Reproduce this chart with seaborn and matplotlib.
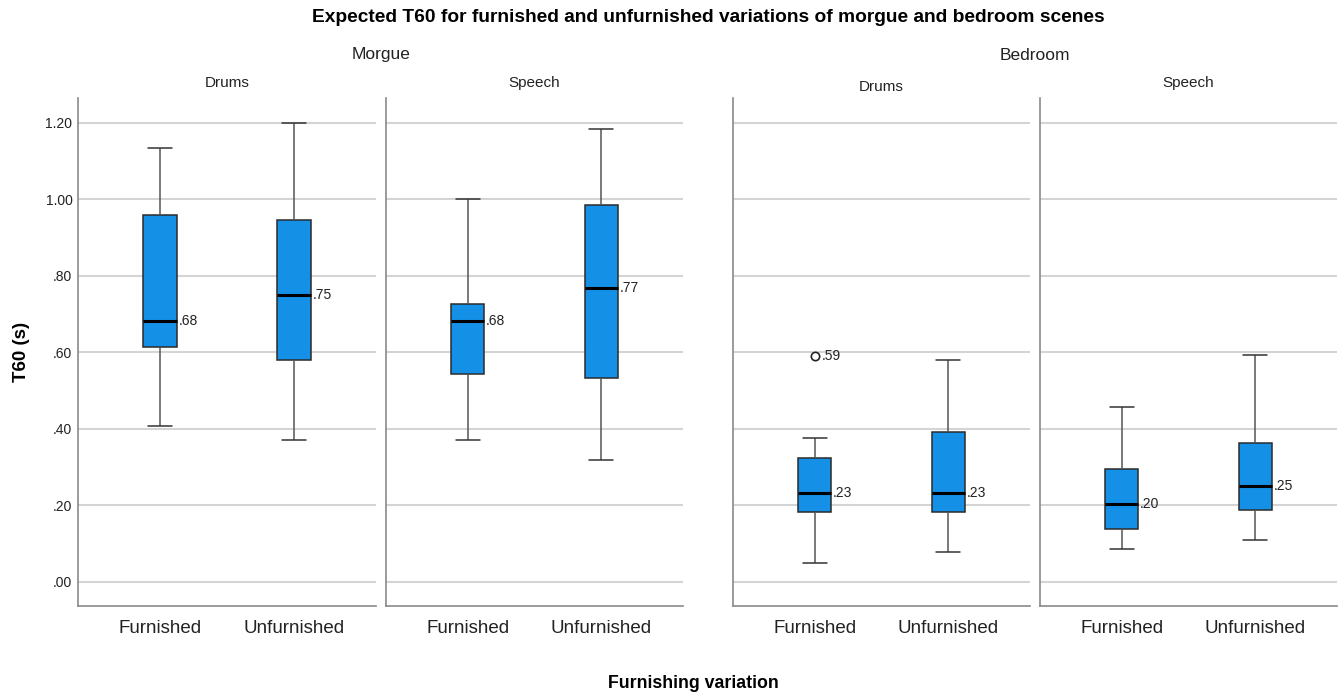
import pandas as pd
import numpy as np
import matplotlib
matplotlib.use('Agg')
import matplotlib.pyplot as plt
import seaborn as sns

# Values: [lower whisker, Q1, median, Q3, upper whisker]
variations = ['Furnished', 'Unfurnished']
scenes = ['Morgue', 'Bedroom']
signals = ['Drums', 'Speech']

morgue_drums_furnished = [0.408, 0.614, 0.683, 0.960, 1.135]
morgue_drums_unfurnished = [0.371, 0.580, 0.750, 0.946, 1.200]
morgue_speech_furnished = [0.371, 0.544, 0.683, 0.727, 1.001]
morgue_speech_unfurnished = [0.319, 0.533, 0.767, 0.986, 1.184]
bedroom_drums_furnished = [0.050, 0.183, 0.232, 0.324, 0.376]
bedroom_drums_unfurnished = [0.078, 0.183, 0.232, 0.392, 0.581]
bedroom_speech_furnished = [0.086, 0.138, 0.203, 0.295, 0.458]
bedroom_speech_unfurnished = [0.110, 0.188, 0.251, 0.364, 0.593]

# outlier in bedroom / drums / furnished
outlier_variation = ['Furnished']
outlier_value = [0.590]

y_ticks = [0.0, 0.2, 0.4, 0.6, 0.8, 1.0, 1.2]

groups = {
    ('Morgue', 'Drums'): [morgue_drums_furnished, morgue_drums_unfurnished],
    ('Morgue', 'Speech'): [morgue_speech_furnished, morgue_speech_unfurnished],
    ('Bedroom', 'Drums'): [bedroom_drums_furnished, bedroom_drums_unfurnished],
    ('Bedroom', 'Speech'): [bedroom_speech_furnished, bedroom_speech_unfurnished],
}

rows = []
for (scene, signal), vals in groups.items():
    for var, v in zip(variations, vals):
        for x in v:
            rows.append({'scene': scene, 'signal': signal, 'variation': var, 't60': x})
df = pd.DataFrame(rows)

sns.set_style('white')
plt.rcParams['font.family'] = ['Liberation Sans', 'DejaVu Sans']

W, H = 1343, 694
fig = plt.figure(figsize=(W / 100, H / 100), dpi=100, facecolor='w')

# panel boundaries in pixels (left, right)
panel_px = [(78, 376), (386, 683), (733, 1030), (1040, 1337)]
top_px, bottom_px = 98, 606
panels = [('Morgue', 'Drums'), ('Morgue', 'Speech'), ('Bedroom', 'Drums'), ('Bedroom', 'Speech')]
title_y = [83, 83, 87, 83]

box_color = '#1490e6'
width = 0.25

axs = []
for i, ((l, r), (scene, signal)) in enumerate(zip(panel_px, panels)):
    ax = fig.add_axes([l / W, (H - bottom_px) / H, (r - l) / W, (bottom_px - top_px) / H])
    axs.append(ax)
    sub = df[(df['scene'] == scene) & (df['signal'] == signal)]
    sns.boxplot(data=sub, x='variation', y='t60', order=variations, ax=ax,
                color=box_color, width=width, whis=(0, 100), linewidth=1.1,
                boxprops={'facecolor': box_color, 'edgecolor': '#2b2b2b'},
                whiskerprops={'color': '#555555', 'linewidth': 1.1},
                capprops={'color': '#333333', 'linewidth': 1.1},
                medianprops={'color': 'black', 'linewidth': 2.2})

    # widen the caps a bit (SPSS style)
    for line in ax.lines:
        xd, yd = np.asarray(line.get_xdata(), float), np.asarray(line.get_ydata(), float)
        if len(xd) == 2 and yd[0] == yd[1] and 0 < xd[1] - xd[0] < width * 0.9:
            c = xd.mean()
            line.set_xdata([c - width * 0.36, c + width * 0.36])

    # median labels
    meds = sub.groupby('variation')['t60'].median()
    for j, var in enumerate(variations):
        m = meds[var]
        ax.text(j + width / 2 + 0.012, m, f'{m:.2f}'.lstrip('0'), fontsize=10,
                va='center', ha='left', color='#222222')

    if (scene, signal) == ('Bedroom', 'Drums'):
        odf = pd.DataFrame({'variation': outlier_variation, 't60': outlier_value})
        sns.stripplot(data=odf, x='variation', y='t60', order=variations, ax=ax,
                      jitter=False, color='white', edgecolor='#222222', linewidth=1.2,
                      size=6, zorder=5)
        for var, v in zip(outlier_variation, outlier_value):
            ax.text(variations.index(var) + 0.05, v, f'{v:.2f}'.lstrip('0'), fontsize=10,
                    va='center', ha='left', color='#222222')

    ax.set_xlim(-0.61, 1.61)
    ax.set_ylim(-0.063, 1.265)
    ax.set_yticks(y_ticks)
    ax.yaxis.grid(True, color='#d4d4d4', linewidth=1.5)
    ax.set_axisbelow(True)
    ax.set_xlabel('')
    ax.set_ylabel('')
    for s in ['top', 'right']:
        ax.spines[s].set_visible(False)
    for s in ['left', 'bottom']:
        ax.spines[s].set_color('#8a8a8a')
        ax.spines[s].set_linewidth(1.2)
    ax.tick_params(axis='both', length=0)
    ax.tick_params(axis='x', labelsize=13.5, pad=10, colors='#222222')
    if i == 0:
        ax.set_yticklabels([f'{t:.2f}'.lstrip('0') if t < 1 else f'{t:.2f}' for t in y_ticks],
                           fontsize=10, color='#222222')
        ax.tick_params(axis='y', pad=4)
    else:
        ax.set_yticklabels([])

    fig.text((l + r) / 2 / W, 1 - title_y[i] / H, signal, ha='center', va='center',
             fontsize=11, color='#222222')

fig.text(381 / W, 1 - 55 / H, 'Morgue', ha='center', va='center', fontsize=12.5, color='#222222')
fig.text(1035 / W, 1 - 55 / H, 'Bedroom', ha='center', va='center', fontsize=12.5, color='#222222')
fig.text(708 / W, 1 - 18 / H,
         'Expected T60 for furnished and unfurnished variations of morgue and bedroom scenes',
         ha='center', va='center', fontsize=13.8, fontweight='bold', color='black')
fig.text(22 / W, 1 - 352 / H, 'T60 (s)', rotation=90, ha='center', va='center',
         fontsize=13.5, fontweight='bold', color='black')
fig.text(693 / W, 1 - 683 / H, 'Furnishing variation', ha='center', va='center',
         fontsize=12.8, fontweight='bold', color='black')

fig.savefig('out.png', dpi=100, facecolor='w')
plt.close()
